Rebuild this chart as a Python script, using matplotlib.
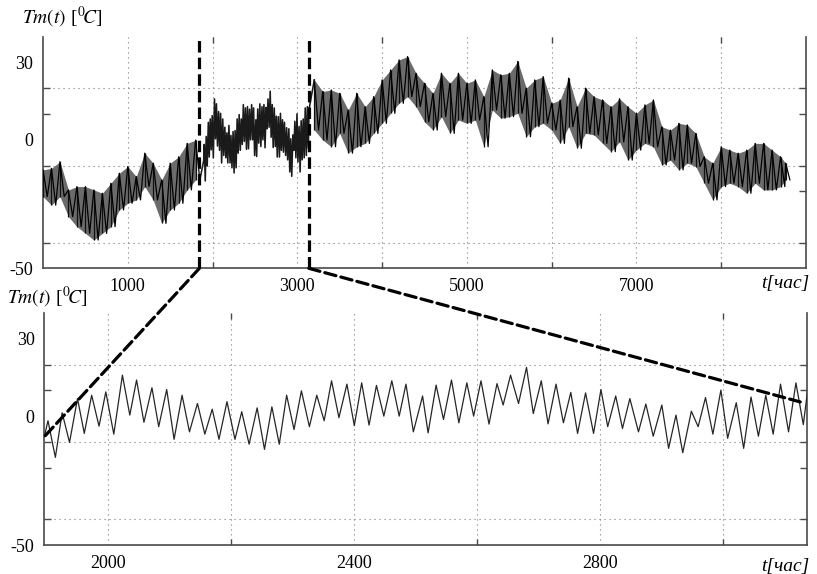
import numpy as np
import matplotlib
matplotlib.use("Agg")
import matplotlib.pyplot as plt
from matplotlib.patches import ConnectionPatch

plt.rcParams['font.family'] = ['Liberation Serif', 'DejaVu Serif']
plt.rcParams['mathtext.fontset'] = 'stix'
plt.rcParams['axes.unicode_minus'] = False

# ---------------- data ----------------
# Top panel: upper / lower envelope of the hourly series, sampled every 100 h
env_a_hours = np.arange(0, 1900, 100)
env_a_hi = [-11.7, -11.1, -8.5, -19.5, -18.2, -18.2, -19.5, -20.8, -16.9, -13.0,
            -10.4, -14.3, -5.2, -9.1, -15.6, -9.1, -6.6, -1.4, -0.1]
env_a_lo = [-22.1, -25.4, -22.1, -29.9, -33.8, -36.4, -39.0, -36.4, -33.8, -27.3,
            -24.7, -23.4, -18.2, -23.4, -32.5, -27.3, -24.7, -19.5, -15.6]

env_b_hours = list(range(3200, 8800, 100)) + [8760]
env_b_hi = [23.3, 18.8, 19.4, 18.1, 11.6, 18.1, 12.9, 16.8, 23.3, 27.2,
            31.1, 32.4, 25.9, 22.0, 18.1, 25.9, 22.0, 25.9, 22.0, 23.3,
            16.8, 27.2, 25.3, 25.9, 30.5, 20.1, 23.3, 24.6, 14.2, 15.5,
            24.0, 12.9, 20.1, 16.8, 15.5, 12.9, 16.0, 12.9, 10.3, 13.6,
            15.5, 5.1, 3.8, 6.4, 5.8, 2.5, -6.6, -9.1, -2.7, -4.0,
            -5.2, -4.0, -1.4, -1.4, -4.0, -6.6, -9.1]
env_b_lo = [3.8, -0.1, -2.7, 2.5, -5.2, -2.7, -1.4, 2.5, 6.4, 10.3,
            14.2, 16.8, 12.9, 7.0, 3.8, 9.0, 2.5, 7.7, 6.4, 7.7,
            -2.7, 11.6, 8.4, 9.0, 10.3, 1.2, 5.1, 6.4, 3.8, -1.4,
            5.1, -3.3, 2.5, 1.9, -1.4, -4.6, -0.8, -7.9, -4.0, -1.4,
            -2.7, -9.8, -7.9, -11.7, -9.1, -10.4, -16.9, -23.4, -18.2, -16.9,
            -18.2, -20.8, -16.9, -19.5, -19.5, -18.2, -15.6]

# Zoomed interval: daily maxima / minima (hour, temperature)
zoom_hours = [1896, 1902, 1914, 1925, 1937, 1950, 1961, 1973, 1985, 1996,
              2009, 2023, 2035, 2046, 2058, 2071, 2082, 2095, 2107, 2120,
              2132, 2145, 2157, 2169, 2180, 2193, 2206, 2217, 2229, 2242,
              2254, 2266, 2278, 2290, 2302, 2314, 2327, 2339, 2351, 2363,
              2375, 2388, 2400, 2412, 2424, 2436, 2448, 2461, 2473, 2484,
              2496, 2511, 2520, 2533, 2545, 2558, 2570, 2583, 2594, 2606,
              2619, 2632, 2642, 2654, 2667, 2680, 2691, 2704, 2715, 2728,
              2740, 2752, 2763, 2776, 2789, 2801, 2812, 2825, 2836, 2848,
              2862, 2874, 2886, 2900, 2911, 2923, 2934, 2948, 2959, 2971,
              2983, 2996, 3007, 3021, 3033, 3045, 3057, 3069, 3081, 3093,
              3106, 3118, 3130, 3138]
zoom_temp = [-8.0, -1.8, -16.0, 1.3, -10.2, 6.8, -6.7, 8.1, -3.9, 9.4,
             -7.0, 15.9, 0.4, 14.0, -2.4, 11.0, -4.1, 10.3, -9.0, 8.1,
             -6.1, 4.9, -7.0, 2.7, -9.0, 5.6, -9.0, 1.7, -10.9, 3.2,
             -12.9, 3.6, -10.9, 8.1, -5.2, 9.8, -4.1, 8.1, -1.8, 13.7,
             -0.6, 12.4, -3.7, 12.9, -3.5, 11.9, 0.0, 13.7, 0.0, 12.4,
             -6.1, 7.8, -6.5, 12.0, -1.3, 14.0, -2.6, 12.9, 0.0, 13.7,
             -3.1, 12.6, 4.3, 15.9, 4.9, 18.9, 1.0, 13.7, -3.0, 12.4,
             -2.6, 9.2, -6.7, 9.0, -6.7, 10.3, -4.1, 7.8, -4.8, 6.8,
             -6.1, 4.7, -7.8, 4.3, -12.5, 0.4, -14.2, 1.9, -4.1, 7.2,
             -7.0, 10.1, -8.6, 5.2, -12.5, 7.4, -7.8, 8.1, -7.0, 12.4,
             -6.1, 12.9, -3.3, 11.8]

zoom_marks = [1845, 3135]          # dashed markers on the upper chart
zoom_connect_levels = [-8.0, 5.5]  # where the dashed connectors meet the lower chart
zoom_connect_right = 3125

top_xlim = [0, 9000]
bot_xlim = [1896, 3136]
ylim = [-50, 40]
y_labels = [-50, 0, 30]
y_grid = [-40, -10, 20]
y_minor = [-20, 0, 10, 30]
top_xticks = [1000, 3000, 5000, 7000]
top_xgrid = [1000, 2000, 3000, 4000, 5000, 6000, 7000, 8000]
bot_xticks = [2000, 2400, 2800]
bot_xgrid = [2000, 2200, 2400, 2600, 2800, 3000]

# ---------------- figure ----------------
W, H = 817, 574
fig = plt.figure(figsize=(W / 100, H / 100), dpi=100)
ax1 = fig.add_axes([43 / W, 1 - 268.3 / H, (806 - 43) / W, (268.3 - 37) / H])
ax2 = fig.add_axes([44.3 / W, 1 - 545 / H, (807 - 44.3) / W, (545 - 313) / H])

grid_kw = dict(color='#7a7a7a', lw=0.8, linestyle=(0, (1, 3.5)), zorder=0)


def style(ax, xticks, xgrid, xlim):
    ax.set_xlim(xlim)
    ax.set_ylim(ylim)
    for s in ['left', 'right', 'bottom']:
        ax.spines[s].set_color('#4a4a4a')
        ax.spines[s].set_linewidth(1.2)
    ax.spines['top'].set_visible(False)
    ax.set_yticks(y_labels, labels=[str(v) for v in y_labels])
    ax.set_xticks(xticks, labels=[str(v) for v in xticks])
    ax.tick_params(axis='both', which='major', length=0, labelsize=13,
                   pad=7, colors='black')
    for g in y_grid:
        ax.axhline(g, **grid_kw)
    for g in xgrid:
        ax.axvline(g, **grid_kw)
    ax.set_yticks(y_grid + y_minor, minor=True)
    ax.tick_params(axis='y', which='minor', direction='in', length=5,
                   left=True, right=True, color='#4a4a4a', width=1.0)
    ax.set_xticks(xgrid, minor=True)
    ax.tick_params(axis='x', which='minor', direction='in', length=4,
                   top=True, bottom=True, color='#4a4a4a', width=1.0)


style(ax1, top_xticks, top_xgrid, top_xlim)
style(ax2, bot_xticks, bot_xgrid, bot_xlim)

# ---- upper chart: whole year ----
def zigzag(hours, hi, lo):
    h = np.asarray(hours, float)
    xs = np.column_stack([h, h + 50]).ravel()
    ys = np.column_stack([hi, lo]).ravel()
    return xs, ys

band_color = '#6b6b6b'
for hrs, hi, lo in [(env_a_hours, env_a_hi, env_a_lo), (env_b_hours, env_b_hi, env_b_lo)]:
    ax1.fill_between(hrs, lo, hi, color=band_color, lw=0, zorder=2)
    ax1.vlines(hrs, lo, hi, color='#111111', lw=0.9, zorder=3)
xa, ya = zigzag(env_a_hours, env_a_hi, env_a_lo)
xb, yb = zigzag(env_b_hours, env_b_hi, env_b_lo)
ax1.plot(xa, ya, color='black', lw=0.9, zorder=3)
ax1.plot(xb, yb, color='black', lw=0.9, zorder=3)
ax1.plot(np.concatenate([[xa[-1]], zoom_hours, [xb[0]]]),
         np.concatenate([[ya[-1]], zoom_temp, [yb[0]]]),
         color='#1a1a1a', lw=1.15, zorder=3)

dash_kw = dict(color='black', lw=2.3, dashes=(3.6, 1.6))
for m in zoom_marks:
    ax1.axvline(m, zorder=4, **dash_kw)

# ---- lower chart: zoomed interval ----
ax2.plot(zoom_hours, zoom_temp, color='#262626', lw=0.9, zorder=3)

# ---- connectors ----
for xm, xb_, yb_ in zip(zoom_marks, [bot_xlim[0], zoom_connect_right], zoom_connect_levels):
    con = ConnectionPatch(xyA=(xm, ylim[0]), coordsA=ax1.transData,
                          xyB=(xb_, yb_), coordsB=ax2.transData,
                          color='black', lw=2.3, linestyle=(0, (3.6, 1.6)),
                          zorder=10)
    con.set_clip_on(False)
    fig.add_artist(con)

# ---- labels ----
ylab = r'$Tm(t)$ [$^{0}\!C$]'
fig.text(22 / W, 1 - 17 / H, ylab, fontsize=14, ha='left', va='center')
fig.text(7 / W, 1 - 297 / H, ylab, fontsize=14, ha='left', va='center')
xlab_kw = dict(fontsize=14, ha='right', va='center', style='italic')
fig.text(809 / W, 1 - 283 / H, 't[час]', **xlab_kw)
fig.text(809 / W, 1 - 566 / H, 't[час]', **xlab_kw)

fig.savefig('out.png', dpi=100)
